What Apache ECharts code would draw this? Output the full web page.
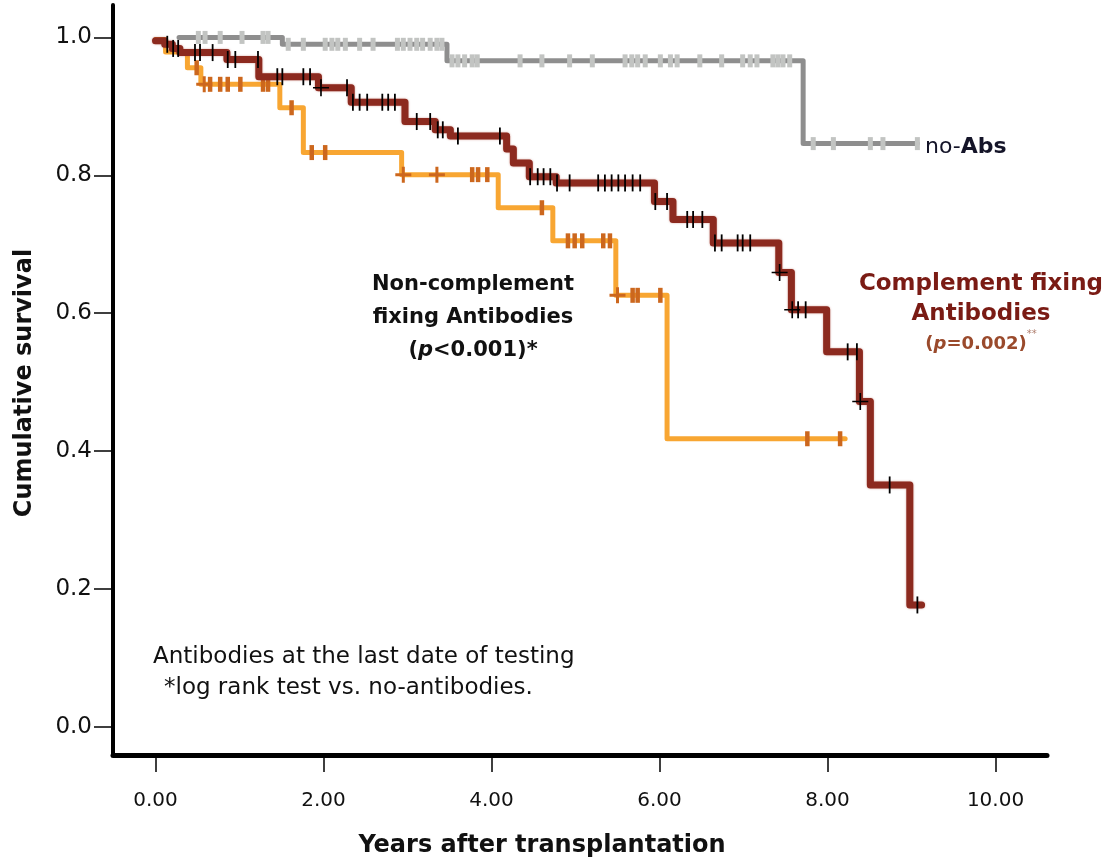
<!DOCTYPE html>
<html>
<head>
<meta charset="utf-8">
<title>Cumulative survival after transplantation</title>
<script src="https://cdn.jsdelivr.net/npm/echarts@6/dist/echarts.min.js"></script>
<style>
  html, body { margin: 0; padding: 0; background: #ffffff; }
  #chart { width: 1113px; height: 863px; }
</style>
</head>
<body>
<div id="chart"></div>
<script>
// Axis ticks
const yearTicks = [0, 2, 4, 6, 8, 10];
const survivalTicks = [0, 0.2, 0.4, 0.6, 0.8, 1.0];

// Kaplan-Meier steps: [years, cumulative survival after that time]
const noAbsSteps = [
  [0.28, 1.0], [1.51, 0.990], [3.47, 0.966], [7.71, 0.846], [9.07, 0.846]
];
const noAbsCensored = [
  0.51, 0.59, 0.77, 1.03, 1.28, 1.34, 1.58, 1.76, 2.02, 2.10, 2.17, 2.26, 2.43,
  2.59, 2.88, 2.95, 3.03, 3.11, 3.18, 3.27, 3.35, 3.41, 3.53, 3.60, 3.68, 3.77,
  3.83, 4.34, 4.60, 4.93, 5.20, 5.59, 5.67, 5.74, 5.83, 6.01, 6.13, 6.21, 6.48,
  6.74, 6.99, 7.08, 7.16, 7.35, 7.41, 7.47, 7.55, 7.83, 8.07, 8.51, 8.66, 9.07
];

const nonCompSteps = [
  [0, 0.997], [0.12, 0.979], [0.38, 0.956], [0.54, 0.932], [1.48, 0.898],
  [1.76, 0.833], [2.93, 0.801], [4.08, 0.753], [4.73, 0.705], [5.48, 0.626],
  [6.09, 0.418], [8.21, 0.418]
];
const nonCompCensored = [
  0.49, 0.65, 0.77, 0.86, 1.01, 1.28, 1.34, 1.62, 1.86, 2.02, 3.77, 3.84, 3.95,
  4.60, 4.91, 4.99, 5.08, 5.33, 5.41, 5.68, 5.74, 6.01, 7.76, 8.15
];
const nonCompCrossed = [0.58, 2.95, 3.35, 5.50];

const compSteps = [
  [0, 0.995], [0.11, 0.990], [0.20, 0.984], [0.29, 0.978], [0.85, 0.968],
  [1.23, 0.943], [1.94, 0.927], [2.33, 0.906], [2.97, 0.878], [3.33, 0.866],
  [3.51, 0.857], [4.18, 0.838], [4.26, 0.818], [4.45, 0.798], [4.77, 0.789],
  [5.94, 0.762], [6.16, 0.736], [6.64, 0.702], [7.42, 0.659], [7.57, 0.605],
  [7.99, 0.544], [8.38, 0.472], [8.51, 0.351], [8.98, 0.177], [9.12, 0.177]
];
const compCensored = [
  0.14, 0.21, 0.27, 0.47, 0.53, 0.68, 0.86, 0.95, 1.22, 1.45, 1.51, 1.76, 1.84,
  2.28, 2.35, 2.43, 2.52, 2.70, 2.77, 2.85, 3.11, 3.27, 3.36, 3.42, 3.60, 4.10,
  4.46, 4.55, 4.62, 4.70, 4.78, 4.93, 5.27, 5.35, 5.43, 5.51, 5.59, 5.68, 5.77,
  5.95, 6.09, 6.33, 6.40, 6.51, 6.66, 6.74, 6.93, 6.99, 7.08, 7.65, 7.74, 8.24,
  8.35, 8.74, 9.07
];
const compCrossed = [1.97, 7.43, 7.58, 8.39];

// Survival value of a step curve at time t
function survivalAt(steps, t) {
  let s = steps[0][1];
  for (const [x, y] of steps) {
    if (x <= t) s = y; else break;
  }
  return s;
}
const marksOn = (steps, times) => times.map(t => [t, survivalAt(steps, t)]);

const FONT = '"DejaVu Sans", "Noto Sans", sans-serif';
const CROSS = 'path://M7,0h1.6v17h-1.6z M0,7.7h15.6v1.6h-15.6z';

const chart = echarts.init(document.getElementById('chart'), null, { renderer: 'canvas' });

const stepLine = (name, data, color, width, z, extra) => Object.assign({
  name, type: 'line', step: 'end', data, symbol: 'none', z,
  silent: true, animation: false,
  lineStyle: { color, width, join: 'round', cap: 'round' }
}, extra || {});

const marks = (name, data, symbol, size, color, z) => ({
  name, type: 'scatter', data, symbol, symbolSize: size, z,
  silent: true, animation: false,
  itemStyle: { color, opacity: 1 }
});

chart.setOption({
  backgroundColor: '#ffffff',
  animation: false,
  grid: { left: 113, top: 5, right: 66, bottom: 108, containLabel: false },
  xAxis: {
    type: 'value', min: -0.506, max: 10.613,
    splitLine: { show: false },
    axisLine: { show: true, onZero: false, lineStyle: { color: '#000', width: 5 } },
    axisTick: { show: true, customValues: yearTicks, length: 17, lineStyle: { color: '#000', width: 1.5 } },
    axisLabel: {
      customValues: yearTicks, formatter: v => Number(v).toFixed(2),
      fontFamily: FONT, fontSize: 20, color: '#111', margin: 36
    }
  },
  yAxis: {
    type: 'value', min: -0.0406, max: 1.047,
    splitLine: { show: false },
    axisLine: { show: true, onZero: false, lineStyle: { color: '#000', width: 4 } },
    axisTick: { show: true, customValues: survivalTicks, length: 19, lineStyle: { color: '#000', width: 1.5 } },
    axisLabel: {
      customValues: survivalTicks, formatter: v => Number(v).toFixed(1),
      fontFamily: FONT, fontSize: 23, color: '#111', margin: 21
    }
  },
  series: [
    stepLine('no-Abs', noAbsSteps, '#8e8e8e', 5, 2),
    marks('no-Abs censored', marksOn(noAbsSteps, noAbsCensored), 'rect', [5, 13], '#c2c4c2', 3),
    stepLine('Non-complement fixing', nonCompSteps, '#f8a632', 5, 4),
    marks('Non-complement censored', marksOn(nonCompSteps, nonCompCensored), 'rect', [4.5, 15], '#cc671d', 5),
    marks('Non-complement crossed', marksOn(nonCompSteps, nonCompCrossed), 'path://M6.5,0h3v16h-3z M0,6.5h16v3h-16z', [16, 16], '#cc671d', 5),
    stepLine('Complement fixing', compSteps, '#8c2a1f', 7, 6, {
      lineStyle: { color: '#8c2a1f', width: 7, join: 'round', cap: 'round', shadowBlur: 2, shadowColor: 'rgba(170,60,45,0.5)' }
    }),
    marks('Complement censored', marksOn(compSteps, compCensored), 'rect', [1.8, 17], '#000', 7),
    marks('Complement crossed', marksOn(compSteps, compCrossed), CROSS, [16, 17], '#000', 7)
  ],
  graphic: [
    {
      type: 'text', x: 25, y: 383, rotation: Math.PI / 2,
      style: { text: 'Cumulative survival', font: 'bold 24px ' + FONT, fill: '#111',
               align: 'center', verticalAlign: 'middle', textAlign: 'center', textVerticalAlign: 'middle' }
    },
    {
      type: 'text', x: 542, y: 846,
      style: { text: 'Years after transplantation', font: 'bold 24px ' + FONT, fill: '#111',
               align: 'center', verticalAlign: 'middle', textAlign: 'center', textVerticalAlign: 'middle' }
    },
    {
      type: 'text', x: 925, y: 147,
      style: {
        text: '{n|no-}{b|Abs}', align: 'left', verticalAlign: 'middle', textAlign: 'left', textVerticalAlign: 'middle',
        rich: {
          n: { font: '22px ' + FONT, fill: '#141428', color: '#141428' },
          b: { font: 'bold 22px ' + FONT, fill: '#141428', color: '#141428' }
        }
      }
    },
    {
      type: 'text', x: 473, y: 318,
      style: {
        text: '{b|Non-complement}\n{b|fixing Antibodies}\n{b|(}{i|p}{b|<0.001)*}',
        align: 'center', verticalAlign: 'middle', textAlign: 'center', textVerticalAlign: 'middle',
        rich: {
          b: { font: 'bold 21px ' + FONT, fill: '#111', color: '#111', lineHeight: 33 },
          i: { font: 'italic bold 21px ' + FONT, fill: '#111', color: '#111', lineHeight: 33 }
        }
      }
    },
    {
      type: 'text', x: 981, y: 314,
      style: {
        text: '{b|Complement fixing}\n{b|Antibodies}\n{s|(}{si|p}{s|=0.002)}{t|**}',
        align: 'center', verticalAlign: 'middle', textAlign: 'center', textVerticalAlign: 'middle',
        rich: {
          b: { font: 'bold 23px ' + FONT, fill: '#7a1b14', color: '#7a1b14', lineHeight: 30 },
          s: { font: 'bold 18px ' + FONT, fill: '#9a4a2c', color: '#9a4a2c', lineHeight: 30 },
          si: { font: 'italic bold 18px ' + FONT, fill: '#9a4a2c', color: '#9a4a2c', lineHeight: 30 },
          t: { font: '10px ' + FONT, fill: '#b08070', color: '#b08070', lineHeight: 30, verticalAlign: 'top' }
        }
      }
    },
    {
      type: 'text', x: 153, y: 657,
      style: {
        text: 'Antibodies at the last date of testing', font: '23px ' + FONT, fill: '#111',
        align: 'left', verticalAlign: 'middle', textAlign: 'left', textVerticalAlign: 'middle'
      }
    },
    {
      type: 'text', x: 164, y: 688,
      style: {
        text: '*log rank test vs. no-antibodies.', font: '23px ' + FONT, fill: '#111',
        align: 'left', verticalAlign: 'middle', textAlign: 'left', textVerticalAlign: 'middle'
      }
    }
  ]
});
</script>
</body>
</html>
